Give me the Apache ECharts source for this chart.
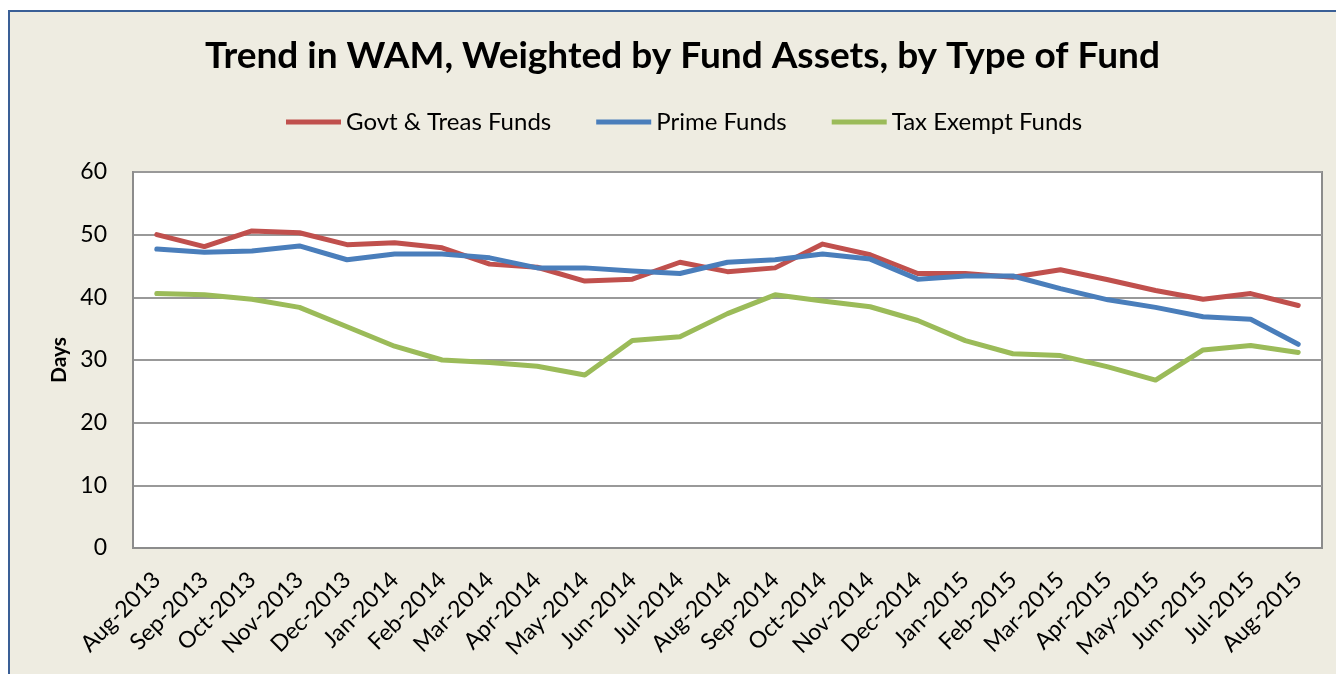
<!DOCTYPE html>
<html>
<head>
<meta charset="utf-8">
<script src="https://cdn.jsdelivr.net/npm/echarts@6/dist/echarts.min.js"></script>
<style>
    html, body { margin: 0; padding: 0; background: #ffffff; overflow: hidden; }
    .frame {
        position: absolute;
        left: 8px;
        top: 10px;
        width: 1330px;
        height: 680px;
        box-sizing: border-box;
        border: 2px solid #3a5f96;
        border-right: none;
        border-bottom: none;
        background: #eeece1;
    }
    #chart { position: absolute; left: 0; top: 0; width: 1336px; height: 674px; }
</style>
</head>
<body>
<div class="frame"></div>
<div id="chart"></div>
<script>
// months on the x axis
const months = [
    'Aug-2013', 'Sep-2013', 'Oct-2013', 'Nov-2013', 'Dec-2013', 'Jan-2014', 'Feb-2014',
    'Mar-2014', 'Apr-2014', 'May-2014', 'Jun-2014', 'Jul-2014', 'Aug-2014', 'Sep-2014',
    'Oct-2014', 'Nov-2014', 'Dec-2014', 'Jan-2015', 'Feb-2015', 'Mar-2015', 'Apr-2015',
    'May-2015', 'Jun-2015', 'Jul-2015', 'Aug-2015'
];

// WAM in days
const govtTreas = [
    50.0, 48.1, 50.6, 50.3, 48.4, 48.7, 47.9, 45.3, 44.8, 42.6, 42.9, 45.6, 44.1,
    44.7, 48.5, 46.8, 43.8, 43.8, 43.2, 44.4, 42.8, 41.1, 39.7, 40.6, 38.7
];
const prime = [
    47.7, 47.2, 47.4, 48.2, 46.0, 46.9, 46.9, 46.3, 44.7, 44.7, 44.2, 43.8, 45.6,
    46.0, 46.9, 46.1, 42.9, 43.4, 43.4, 41.4, 39.6, 38.4, 36.9, 36.5, 32.5
];
const taxExempt = [
    40.6, 40.4, 39.7, 38.4, 35.3, 32.2, 30.0, 29.6, 29.0, 27.6, 33.1, 33.7, 37.4,
    40.4, 39.4, 38.5, 36.3, 33.1, 31.0, 30.7, 28.9, 26.8, 31.6, 32.3, 31.2
];

const seriesNames = ['Govt & Treas Funds', 'Prime Funds', 'Tax Exempt Funds'];
const colors = ['#c0504d', '#4a7ebb', '#9bbb59'];

let myChart = echarts.init(document.getElementById('chart'));

function lineSeries (name, data, color) {
    return {
        name: name,
        type: 'line',
        data: data,
        symbol: 'none',
        lineStyle: { color: color, width: 5, cap: 'round', join: 'round' },
        itemStyle: { color: color },
    };
}

const opts = {
    backgroundColor: 'transparent',
    textStyle: { fontFamily: 'Lato' },
    title: {
        text: 'Trend in WAM, Weighted by Fund Assets, by Type of Fund',
        left: 200,
        top: 33,
        textStyle: { fontFamily: 'Lato', fontWeight: 'bold', fontSize: 37, color: '#000' },
    },
    legend: {
        top: 105,
        left: 281,
        icon: 'rect',
        itemWidth: 55,
        itemHeight: 5,
        itemGap: 45,
        textStyle: { fontFamily: 'Lato', fontSize: 24, color: '#000' },
        data: seriesNames,
    },
    grid: {
        left: 133,
        right: 14,
        top: 172,
        bottom: 126,
        show: true,
        borderColor: '#8c8c8c',
        borderWidth: 2,
        backgroundColor: '#ffffff',
    },
    xAxis: {
        type: 'category',
        data: months,
        boundaryGap: true,
        axisLine: { lineStyle: { color: '#8c8c8c', width: 2 } },
        axisTick: { show: false },
        axisLabel: {
            rotate: 45,
            interval: 0,
            margin: 28,
            fontFamily: 'Lato',
            fontSize: 23,
            color: '#000',
        },
    },
    yAxis: {
        type: 'value',
        min: 0,
        max: 60,
        interval: 10,
        name: 'Days',
        nameLocation: 'middle',
        nameGap: 62,
        nameTextStyle: { fontFamily: 'Lato', fontWeight: 'bold', fontSize: 21, color: '#000' },
        axisLine: { show: true, lineStyle: { color: '#8c8c8c', width: 2 } },
        axisTick: { show: false },
        axisLabel: { margin: 26, fontFamily: 'Lato', fontSize: 23, color: '#000' },
        splitLine: { lineStyle: { color: '#999999', width: 2 } },
    },
    series: [
        lineSeries(seriesNames[0], govtTreas, colors[0]),
        lineSeries(seriesNames[1], prime, colors[1]),
        lineSeries(seriesNames[2], taxExempt, colors[2]),
    ],
};
myChart.setOption(opts);
</script>
</body>
</html>
